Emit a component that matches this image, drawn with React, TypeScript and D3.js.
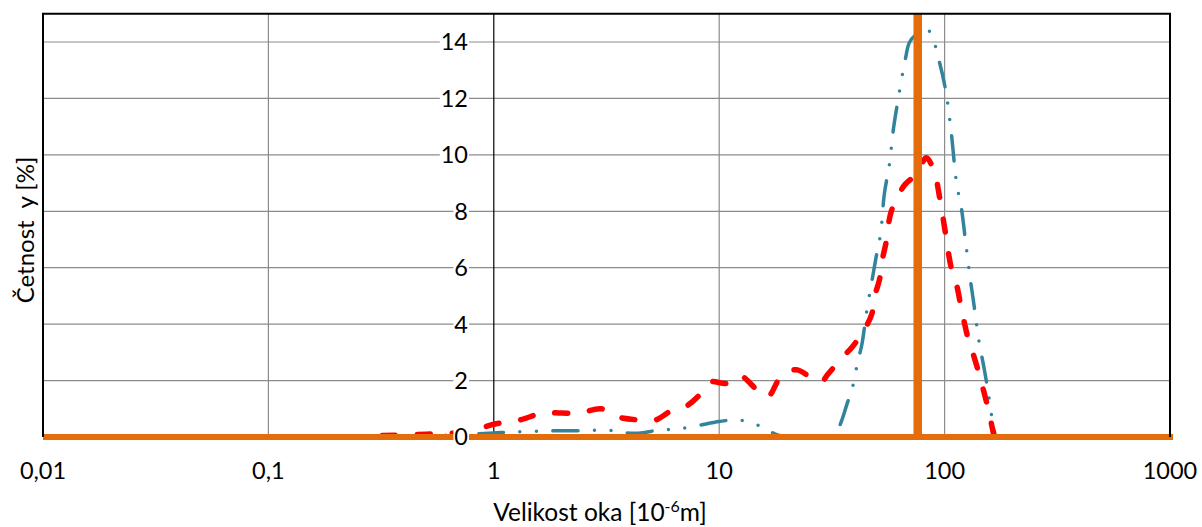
import React from "react";
import * as d3 from "d3";

// x = velikost oka [10^-6 m], y = četnost [%]
const redX = [0.32, 0.5, 0.7, 0.8, 1.0, 1.3, 1.65, 2.0, 2.4, 3.0, 3.5, 4.5, 5.2, 6.2, 7.0, 8.2, 9.1, 10.8, 12.3, 14.8, 16.4, 19, 22, 26.5, 28.4, 30.4, 35, 39, 44, 47.5, 49, 51.5, 53, 55, 58, 66, 72, 78, 83, 90, 95, 101, 107, 113, 119, 128, 135, 146, 156, 162, 166];
const redY = [0.05, 0.1, 0.15, 0.22, 0.45, 0.6, 0.85, 0.85, 0.85, 1.0, 0.72, 0.6, 0.6, 0.95, 1.05, 1.5, 1.95, 1.9, 2.18, 1.65, 1.42, 2.2, 2.38, 2.02, 1.95, 2.23, 2.8, 3.2, 3.8, 4.35, 5.0, 5.6, 6.3, 6.9, 8.0, 8.9, 9.2, 9.6, 9.9, 9.4, 8.5, 7.2, 6.0, 5.4, 4.5, 3.4, 2.85, 1.9, 1.0, 0.4, 0];

const blueX = [0.4, 0.6, 0.8, 1.0, 1.2, 1.5, 1.9, 2.5, 3.2, 3.8, 4.5, 5.4, 6.5, 8.0, 10, 12, 14, 16, 18, 21, 30, 33, 35, 37, 39, 41, 43, 45, 48, 50, 52, 54, 57, 59, 62, 67, 70, 76, 85, 94, 101, 107, 113, 119, 124, 130, 136, 142, 150, 156, 162, 168];
const blueY = [0, 0.06, 0.1, 0.14, 0.18, 0.2, 0.22, 0.22, 0.24, 0.15, 0.14, 0.25, 0.28, 0.4, 0.55, 0.6, 0.5, 0.3, 0.08, 0, 0, 0.15, 0.6, 1.2, 1.75, 2.6, 3.3, 4.4, 5.7, 6.5, 7.2, 8.6, 9.7, 10.8, 11.9, 13.4, 14.0, 14.3, 14.4, 13.4, 12.3, 10.8, 9.0, 8.05, 6.9, 5.6, 4.5, 3.4, 2.4, 1.6, 0.7, 0];

const markerX = 76;
const xTicks = [0.01, 0.1, 1, 10, 100, 1000];
const xTickLabels = ["0,01", "0,1", "1", "10", "100", "1000"];
const yTicks = [0, 2, 4, 6, 8, 10, 12, 14];

const W = 1202;
const H = 527;
const margin = { top: 13.8, right: 32, bottom: 90, left: 43 };
const font = "Lato, 'Open Sans', sans-serif";

export default function App() {
  const x = d3.scaleLog().domain([0.01, 1000]).range([margin.left, W - margin.right]);
  const y = d3.scaleLinear().domain([0, 15]).range([H - margin.bottom, margin.top]);

  const line = d3
    .line<[number, number]>()
    .x((d) => x(d[0]))
    .y((d) => y(d[1]))
    .curve(d3.curveCatmullRom.alpha(0.5));

  const red = redX.map((v, i) => [v, redY[i]] as [number, number]);
  const blue = blueX.map((v, i) => [v, blueY[i]] as [number, number]);

  const x0 = x(0.01);
  const x1 = x(1000);
  const yTop = y(15);
  const yBot = y(0);
  const axisX = x(1);

  return (
    <svg width={W} height={H} style={{ position: "absolute", left: 0, top: 0, background: "#fff" }} fontFamily={font}>
      <defs>
        <clipPath id="plot">
          <rect x={x0} y={yTop} width={x1 - x0} height={yBot - yTop} />
        </clipPath>
      </defs>

      {/* grid */}
      {yTicks.filter((t) => t > 0).map((t) => (
        <line key={"h" + t} x1={x0} x2={x1} y1={y(t)} y2={y(t)} stroke="#8c8c8c" strokeWidth={1.2} />
      ))}
      {xTicks.slice(1, -1).filter((t) => t !== 1).map((t) => (
        <line key={"v" + t} x1={x(t)} x2={x(t)} y1={yTop} y2={yBot} stroke="#8c8c8c" strokeWidth={1.2} />
      ))}
      <line x1={axisX} x2={axisX} y1={yTop} y2={yBot} stroke="#000" strokeWidth={1.2} />

      {/* series */}
      <g clipPath="url(#plot)">
        <path d={line(blue) || ""} fill="none" stroke="#31849b" strokeWidth={3.5} strokeLinecap="round" strokeDasharray="25 16.5 0 16.5 0 16.5" />
        <path d={line(red) || ""} fill="none" stroke="#ff0000" strokeWidth={5.5} strokeLinecap="round" strokeDasharray="13 22" />
      </g>

      {/* orange marker lines */}
      <line x1={x0} x2={x1 + 3} y1={yBot} y2={yBot} stroke="#e46c0a" strokeWidth={6} />
      <line x1={x(markerX)} x2={x(markerX)} y1={yTop} y2={yBot} stroke="#e46c0a" strokeWidth={8.5} />

      {/* frame */}
      <path d={`M${x0},${yBot}V${yTop}H${x1}V${yBot}`} fill="none" stroke="#000" strokeWidth={2} />

      {/* y tick labels */}
      {yTicks.map((t) => {
        const label = String(t);
        const w = label.length * 13.6 + 1;
        return (
          <g key={"yl" + t}>
            <rect x={468 - w} y={y(t) - 10} width={w + 1} height={20} fill="#fff" />
            <text x={468} y={y(t)} dy="0.36em" textAnchor="end" fontSize={23.5} fill="#000">
              {label}
            </text>
          </g>
        );
      })}

      {/* x tick labels */}
      {xTicks.map((t, i) => (
        <text key={"xl" + t} x={x(t)} y={479} textAnchor="middle" fontSize={23.5} fill="#000">
          {xTickLabels[i]}
        </text>
      ))}

      {/* axis titles */}
      <text x={600} y={521} textAnchor="middle" fontSize={24.5} fill="#000">
        Velikost oka [10<tspan dy={-9} fontSize={16}>-6</tspan><tspan dy={9}>m]</tspan>
      </text>
      <text transform={`translate(34,230) rotate(-90)`} textAnchor="middle" fontSize={24} fill="#000" style={{ whiteSpace: "pre" }}>
        {"Četnost  y [%]"}
      </text>
    </svg>
  );
}
